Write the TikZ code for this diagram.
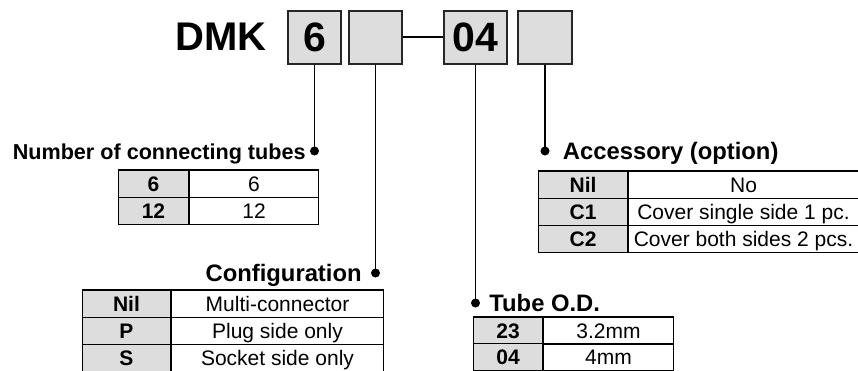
\documentclass[tikz,border=0pt]{standalone}
\usepackage{fontspec}
\setmainfont{Liberation Sans}
\usetikzlibrary{positioning}
\definecolor{cellgray}{RGB}{221,221,221}
\begin{document}
\begin{tikzpicture}[x=1pt,y=-1pt,
  box/.style={draw=black!85, line width=2pt, fill=cellgray, minimum height=53pt, inner sep=0pt, font=\fontsize{41}{41}\selectfont\bfseries},
  head/.style={inner sep=0pt, text height=17pt, text depth=0pt, font=\fontsize{23.8}{24}\selectfont\bfseries},
  dot/.style={circle, fill, inner sep=0pt, minimum size=9pt},
  lead/.style={line width=1.6pt},
  keycell/.style={draw, line width=1pt, fill=cellgray, minimum height=27pt, inner sep=0pt, text height=15pt, text depth=0pt, font=\fontsize{21}{21}\selectfont\bfseries},
  valcell/.style={draw, line width=1pt, minimum height=27pt, inner sep=0pt, text height=15pt, text depth=0pt, font=\fontsize{21}{21}\selectfont},
  topline/.style={line width=2pt}]

  \useasboundingbox (0,0) rectangle (858,370);

  % part number boxes
  \node[box, minimum width=53pt] (b1) at (314.5,37) {6};
  \node[box, minimum width=53pt] (b2) at (375.5,37) {};
  \node[box, minimum width=63pt] (b3) at (475.5,37) {04};
  \node[box, minimum width=54pt] (b4) at (545,37) {};
  \node[inner sep=0pt, font=\fontsize{40}{40}\selectfont\bfseries, left=20pt of b1] (dmk) {DMK};
  \draw[lead] (b2.east) -- (b3.west);

  % lead lines and dots
  \node[dot] (d1) at (314.5,151) {};
  \node[dot] (d2) at (375.5,273) {};
  \node[dot] (d3) at (475.5,303) {};
  \node[dot] (d4) at (545,151) {};
  \foreach \i in {1,...,4} {
    \draw[lead] (b\i.south) -- (d\i.center);
  }

  \node[head, font=\fontsize{21.6}{22}\selectfont\bfseries, left=4pt of d1] (hn) {Number of connecting tubes};
  \node[head, left=9pt of d2] (hc) {Configuration};
  \node[head, right=9pt of d3] (ht) {Tube O.D.};
  \node[head, right=13pt of d4] (ha) {Accessory (option)};

  % number of connecting tubes
  \foreach \k/\v [count=\r] in {6/6, 12/12} {
    \node[keycell, minimum width=70pt, anchor=north west] (nk\r) at (118,{170+27*(\r-1)}) {\k};
    \node[valcell, minimum width=129pt, anchor=west] (nv\r) at (nk\r.east) {\v};
  }
  \draw[topline] (nk1.north west) -- (nv1.north east);

  % configuration
  \foreach \k/\v [count=\r] in {Nil/Multi-connector, P/Plug side only, S/Socket side only} {
    \node[keycell, minimum width=88pt, anchor=north west] (ck\r) at (82,{290+27*(\r-1)}) {\k};
    \node[valcell, minimum width=212pt, anchor=west] (cv\r) at (ck\r.east) {\v};
  }
  \draw[topline] (ck1.north west) -- (cv1.north east);

  % tube O.D.
  \foreach \k/\v [count=\r] in {23/3.2mm, 04/4mm} {
    \node[keycell, minimum width=69pt, anchor=north west] (tk\r) at (473,{317+26*(\r-1)}) {\k};
    \node[valcell, minimum width=130pt, anchor=west] (tv\r) at (tk\r.east) {\v};
  }
  \draw[topline] (tk1.north west) -- (tv1.north east);

  % accessory
  \foreach \k/\v [count=\r] in {Nil/No, C1/Cover single side 1 pc., C2/Cover both sides 2 pcs.} {
    \node[keycell, minimum width=89pt, anchor=north west] (ak\r) at (538,{171+27*(\r-1)}) {\k};
    \node[valcell, minimum width=230pt, anchor=west] (av\r) at (ak\r.east) {\v};
  }
  \draw[topline] (ak1.north west) -- (av1.north east);
\end{tikzpicture}
\end{document}
